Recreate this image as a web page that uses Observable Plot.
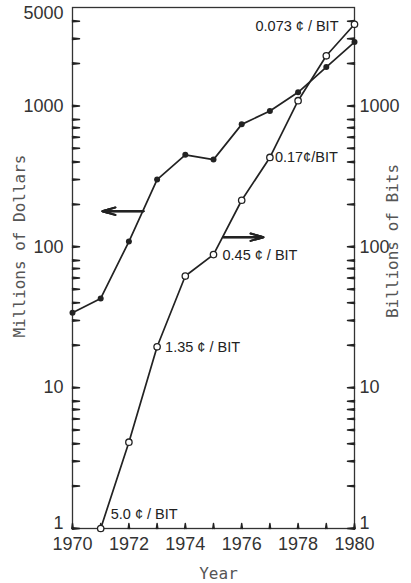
<!DOCTYPE html>
<html><head><meta charset="utf-8">
<script src="https://cdn.jsdelivr.net/npm/d3@7"></script>
<script src="https://cdn.jsdelivr.net/npm/@observablehq/plot@0.6"></script>
<style>html,body{margin:0;padding:0;background:#fff}</style>
</head><body><div id="chart"></div>
<script>
// ---- data ----
const dollarYears = [1970, 1971, 1972, 1973, 1974, 1975, 1976, 1977, 1978, 1979, 1980];
const dollars     = [34, 43, 109, 300, 450, 416, 740, 920, 1250, 1890, 2840];   // Millions of Dollars
const bitYears    = [1971, 1972, 1973, 1974, 1975, 1976, 1977, 1978, 1979, 1980];
const bits        = [1.0, 4.1, 19.5, 62, 88, 214, 431, 1090, 2270, 3800];       // Billions of Bits
const costLabelYears = [1971, 1973, 1975, 1977, 1980];
const costLabels     = ["5.0 ¢ / BIT", "1.35 ¢ / BIT", "0.45 ¢ / BIT", "0.17¢/BIT", "0.073 ¢ / BIT"];
const yTickLabelsLeft  = [1, 10, 100, 1000, 5000];
const yTickLabelsRight = [1, 10, 100, 1000];
const xTickLabels = [1970, 1972, 1974, 1976, 1978, 1980];
const xTicks = [1970, 1971, 1972, 1973, 1974, 1975, 1976, 1977, 1978, 1979, 1980];
const decades = [1, 10, 100, 1000];
const minorMantissas = [2, 3, 4, 5, 6, 7, 8];
const yTop = 5000;
// axis-pointer arrows (year from, year to, value level)
const arrowFrom = [1972.52, 1975.35];
const arrowTo   = [1971.06, 1976.77];
const arrowAt   = [179, 117];

// ---- tables built from the arrays ----
const dollarData = dollarYears.map((x, i) => ({x, y: dollars[i]}));
const bitData = bitYears.map((x, i) => ({x, y: bits[i]}));
const yTicks = decades.flatMap(d => [d, ...minorMantissas.map(m => m * d)]).filter(v => v < yTop);
const arrowData = arrowFrom.map((x1, i) => ({x1, x2: arrowTo[i], y: arrowAt[i]}));
const bitAt = yr => bits[bitYears.indexOf(yr)];
const labelData = costLabelYears.map((x, i) => ({x, y: bitAt(x), text: costLabels[i]}));

// ---- layout ----
const W = 411, H = 583, mL = 72, mR = 57, mT = 7, mB = 55;
const ink = "#222";
const labelOffsets = [
  {dx: 10, dy: -14, textAnchor: "start"},
  {dx: 8, dy: 1, textAnchor: "start"},
  {dx: 9, dy: 1, textAnchor: "start"},
  {dx: 5, dy: 0, textAnchor: "start"},
  {dx: -16, dy: 2, textAnchor: "end"}
];
const fmt = d => String(d);
const tickLine = {stroke: ink, fill: ink, strokeWidth: 1.5, anchor: "start", shape: "spike", r: 0.7};
const labelStyle = {tickSize: 0, fontSize: 18, label: null, tickFormat: fmt};
const titleStyle = {text: d => d, fontFamily: "'DejaVu Sans Mono', monospace", fontSize: 16, fill: "#555",
  textAnchor: "middle", lineAnchor: "middle"};

const chart = Plot.plot({
  width: W, height: H,
  marginLeft: mL, marginRight: mR, marginTop: mT, marginBottom: mB,
  style: {fontFamily: "'Liberation Sans', Arial, sans-serif", color: "#333", background: "#fff"},
  x: {domain: [1970, 1980]},
  y: {type: "log", domain: [1, yTop]},
  marks: [
    Plot.frame({stroke: "#333", strokeWidth: 1.3, fill: "none"}),
    // inward ticks as short vectors from the frame edges
    Plot.vector(yTicks, {y: d => d, frameAnchor: "left", rotate: 90, length: 7, ...tickLine}),
    Plot.vector(yTicks, {y: d => d, frameAnchor: "right", rotate: -90, length: 7, ...tickLine}),
    Plot.vector(xTicks, {x: d => d, frameAnchor: "bottom", rotate: 0, length: 5, ...tickLine}),
    // tick labels
    Plot.axisY(yTickLabelsLeft.filter(v => v > 1 && v < yTop), {anchor: "left", tickPadding: 9, ...labelStyle}),
    Plot.axisY(yTickLabelsLeft.filter(v => v === 1), {anchor: "left", tickPadding: 9, dy: -5, ...labelStyle}),
    Plot.text(yTickLabelsLeft.filter(v => v === yTop), {y: d => d, text: fmt, frameAnchor: "left", dx: -9, dy: 6,
      textAnchor: "end", lineAnchor: "middle", fontSize: 18, fill: "#333"}),
    Plot.axisY(yTickLabelsRight.filter(v => v > 1), {anchor: "right", tickPadding: 5, ...labelStyle}),
    Plot.axisY(yTickLabelsRight.filter(v => v === 1), {anchor: "right", tickPadding: 5, dy: -5, ...labelStyle}),
    Plot.axisX(xTickLabels, {anchor: "bottom", tickPadding: 9, ...labelStyle}),
    // axis titles
    Plot.text(["Millions of Dollars"], {frameAnchor: "left", dx: -53, dy: -22, rotate: -90, ...titleStyle}),
    Plot.text(["Billions of Bits"], {frameAnchor: "right", dx: 38, dy: -27, rotate: -90, ...titleStyle}),
    Plot.text(["Year"], {frameAnchor: "bottom", dx: 5, dy: 45, ...titleStyle}),
    // series
    Plot.line(dollarData, {x: "x", y: "y", stroke: ink, strokeWidth: 1.7}),
    Plot.line(bitData, {x: "x", y: "y", stroke: ink, strokeWidth: 1.7}),
    Plot.dot(dollarData, {x: "x", y: "y", r: 3, fill: ink}),
    Plot.dot(bitData, {x: "x", y: "y", r: 3.2, fill: "#fff", stroke: ink, strokeWidth: 1.3}),
    // arrows
    Plot.arrow(arrowData, {x1: "x1", x2: "x2", y1: "y", y2: "y", stroke: ink, strokeWidth: 2, headLength: 15, headAngle: 32}),
    Plot.arrow(arrowData, {x1: "x1", x2: "x2", y1: "y", y2: "y", stroke: ink, strokeWidth: 2, headLength: 10, headAngle: 32}),
    Plot.arrow(arrowData, {x1: "x1", x2: "x2", y1: "y", y2: "y", stroke: ink, strokeWidth: 2, headLength: 5, headAngle: 32}),
    // cost-per-bit labels
    ...labelData.map((d, i) => Plot.text([d], {x: "x", y: "y", text: "text", ...labelOffsets[i],
      fontSize: 14.5, fill: ink}))
  ]
});
document.getElementById("chart").appendChild(chart);
</script>
</body></html>
